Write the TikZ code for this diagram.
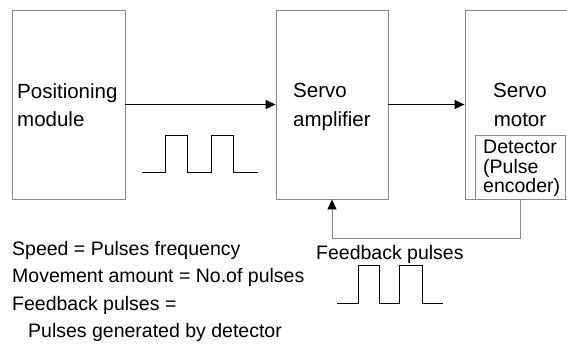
\documentclass[tikz,border=0pt]{standalone}
\usepackage{fontspec}
\setmainfont{Liberation Sans}
\usetikzlibrary{arrows.meta}
\definecolor{boxgray}{HTML}{8A8A8A}
\tikzset{
  blockbox/.style={draw=boxgray, line width=0.9pt, inner sep=0pt, rectangle},
  boxtext/.style={inner sep=0pt, anchor=base west, font=\fontsize{20.5}{24}\selectfont},
  smalltext/.style={inner sep=0pt, anchor=base west, font=\fontsize{19.5}{22}\selectfont},
  flow/.style={line width=0.9pt, -{Triangle[length=10pt,width=9pt]}},
  pulse/.style={line width=0.9pt, black},
}
\begin{document}
\begin{tikzpicture}[x=1pt,y=-1pt]
\useasboundingbox (0,0) rectangle (567,343);
\begin{scope}
\clip (0,0) rectangle (567,343);
\node[blockbox, minimum width=113pt, minimum height=189pt] (pm) at (68.5,104.5) {};
\node[blockbox, minimum width=112pt, minimum height=189pt] (sa) at (332,104.5) {};
\node[blockbox, minimum width=104pt, minimum height=189pt] (sm) at (517,104.5) {};
\node[blockbox, minimum width=90pt, minimum height=64pt] (det) at (520,167) {};
\end{scope}
% texts in boxes
\node[boxtext] (t1) at (17,98) {Positioning};
\node[boxtext] (t2) at (17,126) {module};
\node[boxtext] (t3) at (293,97) {Servo};
\node[boxtext] (t4) at (293,126) {amplifier};
\node[boxtext, anchor=base] (t5) at (520,97) {Servo};
\node[boxtext, anchor=base] (t6) at (520,126) {motor};
\node[smalltext] (d1) at (483,153) {Detector};
\node[smalltext] (d2) at (483,173) {(Pulse};
\node[smalltext] (d3) at (483,192) {encoder)};
% arrows
\draw[flow] (pm.east) -- (sa.west);
\draw[flow] (sa.east) -- (sm.west);
\coordinate (fb1) at (520,238);
\draw[line width=0.9pt, draw=boxgray, -{Triangle[length=10pt,width=9pt,color=black,fill=black]}]
  (det.south) -- (fb1) -| (sa.south);
% pulses
\draw[pulse] (142,172) -- (165,172) -- (165,135) -- (187,135) -- (187,172) -- (211,172)
  -- (211,135) -- (233,135) -- (233,172) -- (258,172);
\draw[pulse] (337,303) -- (358,303) -- (358,265) -- (379,265) -- (379,303) -- (399,303)
  -- (399,265) -- (422,265) -- (422,303) -- (443,303);
% labels
\node[smalltext] (fbl) at (316,259) {Feedback pulses};
\node[smalltext] (l1) at (12,255) {Speed = Pulses frequency};
\node[smalltext] (l2) at (12,282) {Movement amount = No.of pulses};
\node[smalltext] (l3) at (12,310) {Feedback pulses =};
\node[smalltext] (l4) at (28,337) {Pulses generated by detector};
\end{tikzpicture}
\end{document}
